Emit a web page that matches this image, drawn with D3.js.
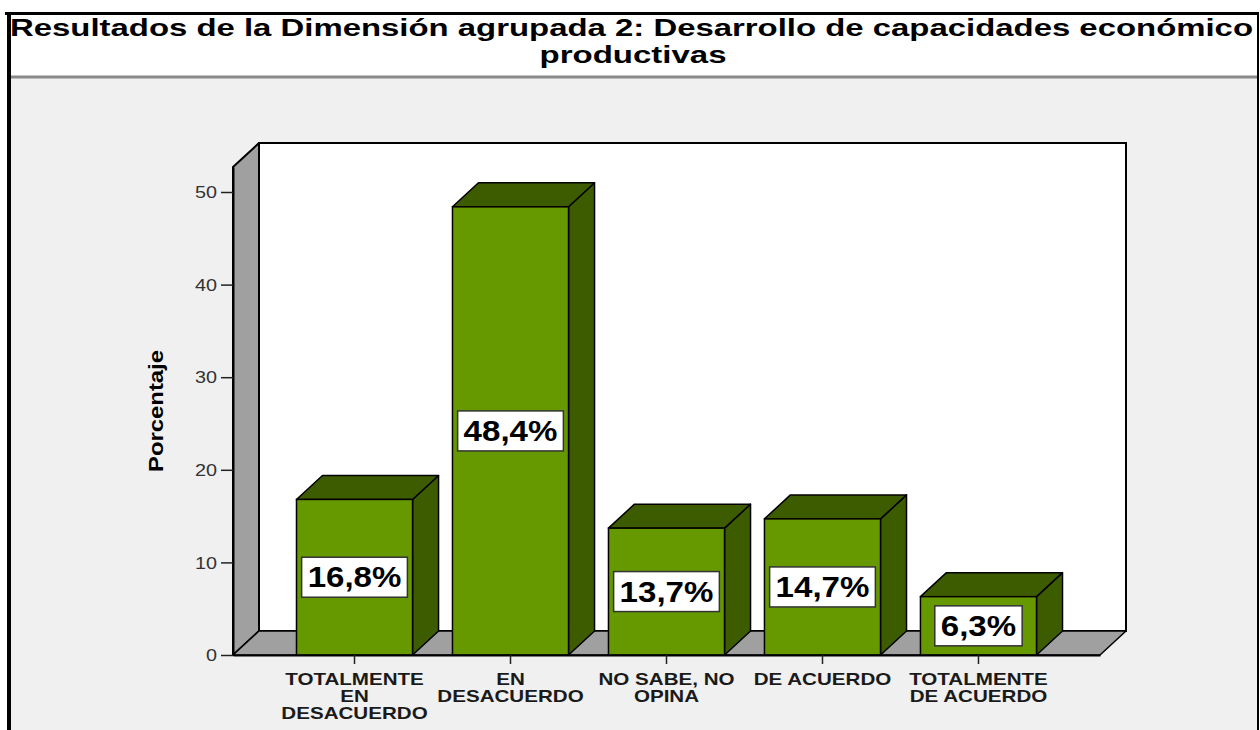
<!DOCTYPE html>
<html>
<head>
<meta charset="utf-8">
<script src="https://cdn.jsdelivr.net/npm/d3@7"></script>
<style>
  html, body { margin: 0; padding: 0; background: #ffffff; }
  svg { display: block; font-family: "Liberation Sans", Arial, sans-serif; }
</style>
</head>
<body>
<div id="chart"></div>
<script>
// chart data
const titleLines = ["Resultados de la Dimensión agrupada 2: Desarrollo de capacidades económico", "productivas"];
const categories = ["TOTALMENTE EN DESACUERDO", "EN DESACUERDO", "NO SABE, NO OPINA", "DE ACUERDO", "TOTALMENTE DE ACUERDO"];
const categoryLines = [["TOTALMENTE", "EN", "DESACUERDO"], ["EN", "DESACUERDO"], ["NO SABE, NO", "OPINA"], ["DE ACUERDO"], ["TOTALMENTE", "DE ACUERDO"]];
const percentages = [16.8, 48.4, 13.7, 14.7, 6.3];
const yTicks = [0, 10, 20, 30, 40, 50];
const yLabel = "Porcentaje";

const width = 1260, height = 730;
const plot = {left: 233, right: 1100, bottom: 655, top: 167};
const depth = {dx: 26, dy: 24};
const green = "#669900", darkGreen = "#3d5c00", wallGray = "#a0a0a0";

const svg = d3.select("#chart").append("svg")
  .attr("width", width)
  .attr("height", height);

// stretch text horizontally like the original export
function stretch(sel, factor) {
  sel.each(function() {
    const len = this.getComputedTextLength();
    d3.select(this).attr("textLength", len * factor).attr("lengthAdjust", "spacingAndGlyphs");
  });
}

// frame + background
svg.append("rect").attr("x", 7).attr("y", 13).attr("width", 1251).attr("height", 720).attr("fill", "#f0f0f0");
svg.append("rect").attr("x", 7).attr("y", 13).attr("width", 1251).attr("height", 63).attr("fill", "#ffffff");
svg.append("line").attr("x1", 7).attr("x2", 1258).attr("y1", 77).attr("y2", 77)
  .attr("stroke", "#8a8a8a").attr("stroke-width", 3);
svg.append("line").attr("x1", 5).attr("x2", 1258).attr("y1", 13.5).attr("y2", 13.5)
  .attr("stroke", "#000").attr("stroke-width", 3);
svg.append("line").attr("x1", 9).attr("x2", 9).attr("y1", 12).attr("y2", 730)
  .attr("stroke", "#000").attr("stroke-width", 4);
svg.append("line").attr("x1", 1258).attr("x2", 1258).attr("y1", 12).attr("y2", 730)
  .attr("stroke", "#000").attr("stroke-width", 2);

// title
const t1 = svg.append("text").attr("x", 10).attr("y", 36)
  .attr("font-size", 23).attr("font-weight", "bold").attr("fill", "#000")
  .text(titleLines[0]);
t1.attr("textLength", 1243).attr("lengthAdjust", "spacingAndGlyphs");
svg.append("text").attr("x", 633).attr("y", 63)
  .attr("font-size", 23).attr("font-weight", "bold").attr("text-anchor", "middle").attr("fill", "#000")
  .text(titleLines[1])
  .attr("textLength", 187).attr("lengthAdjust", "spacingAndGlyphs");

// scales
const y = d3.scaleLinear().domain([0, 52.7]).range([plot.bottom, plot.top]);
const x = d3.scaleBand().domain(categories).range([plot.left, plot.right])
  .paddingInner(0.256).paddingOuter(0.407);

// back wall
svg.append("rect")
  .attr("x", plot.left + depth.dx).attr("y", plot.top - depth.dy)
  .attr("width", plot.right - plot.left).attr("height", plot.bottom - plot.top)
  .attr("fill", "#ffffff").attr("stroke", "#000").attr("stroke-width", 2);

// left wall
svg.append("polygon")
  .attr("points", [[plot.left, plot.bottom], [plot.left, plot.top], [plot.left + depth.dx, plot.top - depth.dy], [plot.left + depth.dx, plot.bottom - depth.dy]].join(" "))
  .attr("fill", wallGray).attr("stroke", "#000").attr("stroke-width", 2).attr("stroke-linejoin", "round");

// floor
svg.append("polygon")
  .attr("points", [[plot.left, plot.bottom], [plot.right, plot.bottom], [plot.right + depth.dx, plot.bottom - depth.dy], [plot.left + depth.dx, plot.bottom - depth.dy]].join(" "))
  .attr("fill", wallGray).attr("stroke", "#000").attr("stroke-width", 1.5).attr("stroke-linejoin", "round");

// bars
const bars = svg.append("g").attr("class", "bars")
  .selectAll("g")
  .data(categories.map((c, i) => ({cat: c, value: percentages[i]})))
  .enter().append("g");

bars.append("polygon") // side
  .attr("points", d => {
    const x0 = x(d.cat), w = x.bandwidth(), yt = y(d.value), yb = y(0);
    return [[x0 + w, yt], [x0 + w + depth.dx, yt - depth.dy], [x0 + w + depth.dx, yb - depth.dy], [x0 + w, yb]].join(" ");
  })
  .attr("fill", darkGreen).attr("stroke", "#000").attr("stroke-width", 1.5).attr("stroke-linejoin", "round");

bars.append("polygon") // top
  .attr("points", d => {
    const x0 = x(d.cat), w = x.bandwidth(), yt = y(d.value);
    return [[x0, yt], [x0 + depth.dx, yt - depth.dy], [x0 + w + depth.dx, yt - depth.dy], [x0 + w, yt]].join(" ");
  })
  .attr("fill", darkGreen).attr("stroke", "#000").attr("stroke-width", 1.5).attr("stroke-linejoin", "round");

bars.append("rect") // front
  .attr("x", d => x(d.cat))
  .attr("y", d => y(d.value))
  .attr("width", x.bandwidth())
  .attr("height", d => y(0) - y(d.value))
  .attr("fill", green).attr("stroke", "#000").attr("stroke-width", 1.5);

// value labels
const fmt = v => d3.format(".1f")(v).replace(".", ",") + "%";
bars.each(function(d) {
  const g = d3.select(this);
  const cx = x(d.cat) + x.bandwidth() / 2;
  const cy = (y(d.value) + y(0)) / 2;
  const box = g.append("rect").attr("fill", "#fff").attr("stroke", "#333").attr("stroke-width", 1.5);
  const txt = g.append("text")
    .attr("x", cx).attr("y", cy + 10)
    .attr("text-anchor", "middle")
    .attr("font-size", 29).attr("font-weight", "bold").attr("fill", "#000")
    .text(fmt(d.value));
  stretch(txt, 1.14);
  const tw = +txt.attr("textLength");
  box.attr("x", cx - tw / 2 - 6).attr("y", cy - 20)
    .attr("width", tw + 12).attr("height", 40);
});

// y axis
const yAxis = svg.append("g")
  .attr("transform", `translate(${plot.left},0)`)
  .call(d3.axisLeft(y).tickValues(yTicks).tickSize(12).tickPadding(4).tickSizeOuter(0));
yAxis.select(".domain").attr("stroke", "#000").attr("stroke-width", 2);
yAxis.selectAll(".tick line").attr("stroke", "#222").attr("stroke-width", 1.5);
yAxis.selectAll(".tick text")
  .attr("font-size", 16.5).attr("fill", "#333").attr("font-family", "Liberation Sans, Arial, sans-serif")
  .attr("dy", "0.35em");
stretch(yAxis.selectAll(".tick text"), 1.2);

// x axis
const xAxis = svg.append("g")
  .attr("transform", `translate(0,${plot.bottom})`)
  .call(d3.axisBottom(x).tickSize(9).tickSizeOuter(0).tickFormat(""));
xAxis.select(".domain").attr("stroke", "#000").attr("stroke-width", 2);
xAxis.selectAll(".tick line").attr("stroke", "#222").attr("stroke-width", 1.5);

const catLabels = svg.append("g").attr("class", "cat-labels")
  .selectAll("text")
  .data(categories)
  .enter().append("text")
  .attr("text-anchor", "middle")
  .attr("font-size", 17).attr("font-weight", "bold").attr("fill", "#1a1a1a");
catLabels.each(function(c, i) {
  const t = d3.select(this);
  categoryLines[i].forEach((line, j) => {
    t.append("tspan")
      .attr("x", x(c) + x.bandwidth() / 2)
      .attr("y", 685 + j * 17)
      .text(line);
  });
});
catLabels.selectAll("tspan").each(function() {
  const len = this.getComputedTextLength();
  d3.select(this).attr("textLength", len * 1.21).attr("lengthAdjust", "spacingAndGlyphs");
});

// y axis title
svg.append("text")
  .attr("transform", "translate(163,411) rotate(-90)")
  .attr("text-anchor", "middle")
  .attr("font-size", 19.5).attr("font-weight", "bold").attr("fill", "#000")
  .text(yLabel)
  .attr("textLength", 122).attr("lengthAdjust", "spacingAndGlyphs");
</script>
</body>
</html>
